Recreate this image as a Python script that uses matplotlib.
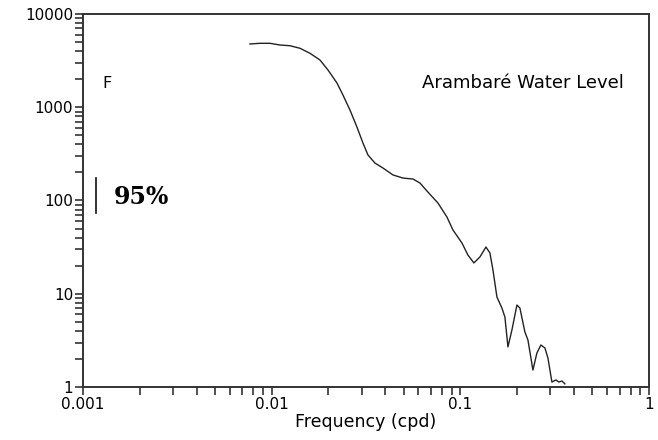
import numpy as np
import matplotlib.pyplot as plt
from matplotlib.ticker import LogLocator, FixedLocator, NullFormatter

# spectrum
freq = [0.00767, 0.00867, 0.00979, 0.01107, 0.01250, 0.01413, 0.01596, 0.01803, 0.01988, 0.02219,
        0.02387, 0.02600, 0.02831, 0.03046, 0.03238, 0.03527, 0.03889, 0.04394, 0.04964, 0.05609,
        0.06108, 0.06736, 0.07609, 0.08492, 0.09137,
        0.1020, 0.1097, 0.1180, 0.1270, 0.1367, 0.1435, 0.1489, 0.1563, 0.1661, 0.1723,
        0.1788, 0.1877, 0.1995, 0.2069, 0.2199, 0.2282, 0.2425, 0.2545, 0.2673, 0.2808,
        0.2912, 0.3058, 0.3211, 0.3331, 0.3455, 0.3583]
psd = [4770, 4850, 4850, 4650, 4570, 4290, 3790, 3210, 2510, 1820,
       1352, 935, 614, 414, 308, 252, 223, 188, 174, 170,
       154, 123, 94.0, 66.5, 48.3,
       35.0, 26.0, 21.4, 24.8, 31.7, 27.4, 18.0, 9.23, 7.03, 5.63,
       2.69, 4.09, 7.57, 7.03, 3.89, 3.19, 1.52, 2.31, 2.82, 2.62,
       2.05, 1.13, 1.19, 1.13, 1.16, 1.08]

yticks = [1, 10, 100, 1000, 10000]
ylabels = ['1', '10', '100', '1000', '10000']
xticks = [0.001, 0.01, 0.1, 1]
xlabels = ['0.001', '0.01', '0.1', '1']

plt.rcParams['font.family'] = ['DejaVu Sans']

fig = plt.figure(figsize=(6.58, 4.40), dpi=100)
ax = fig.add_axes([83/658, 1-387/440, (649-83)/658, (387-14)/440])

ax.plot(freq, psd, color='#222222', lw=1.0)

ax.set_xscale('log')
ax.set_yscale('log')
ax.set_xlim(0.001, 1)
ax.set_ylim(1, 10000)

ax.xaxis.set_major_locator(FixedLocator(xticks))
ax.set_xticklabels(xlabels)
ax.yaxis.set_major_locator(FixedLocator(yticks))
ax.set_yticklabels(ylabels)
ax.xaxis.set_minor_locator(LogLocator(base=10, subs=np.arange(2, 10)))
ax.yaxis.set_minor_locator(LogLocator(base=10, subs=np.arange(2, 10)))
ax.xaxis.set_minor_formatter(NullFormatter())
ax.yaxis.set_minor_formatter(NullFormatter())

ax.tick_params(which='both', direction='out', length=6, width=1.2, color='#333333',
               labelsize=11, pad=1)
ax.tick_params(axis='x', pad=1)
for s in ax.spines.values():
    s.set_linewidth(1.4)
    s.set_color('#333333')

ax.set_xlabel('Frequency (cpd)', fontsize=12.5, labelpad=1)

ax.text(0.035, 0.815, 'F', transform=ax.transAxes, fontsize=11.5, va='center')
ax.text(0.955, 0.815, 'Arambaré Water Level', transform=ax.transAxes, fontsize=13,
        va='center', ha='right')

# 95% confidence bar
ax.plot([0.00117, 0.00117], [73.5, 174], color='#111111', lw=1.2)
ax.text(0.00145, 110, '95%', fontsize=17, fontweight='bold', va='center',
        family=['DejaVu Serif'])

fig.savefig('out.png', dpi=100)
